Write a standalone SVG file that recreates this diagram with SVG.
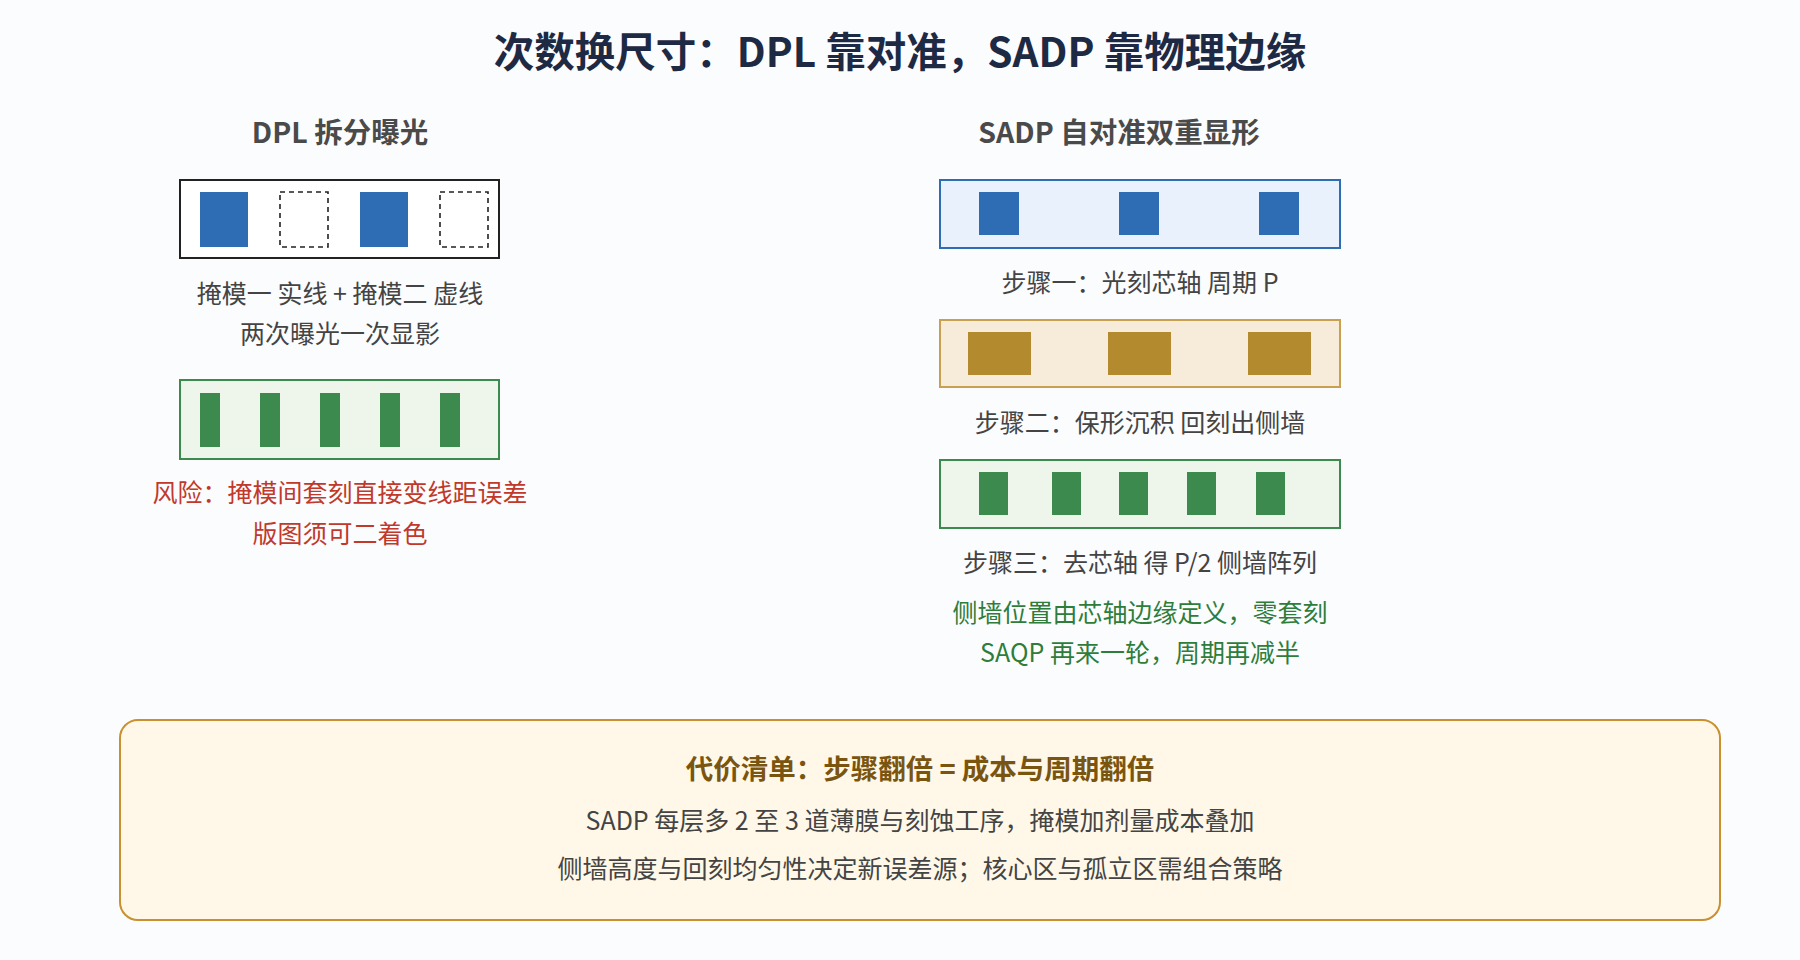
<svg xmlns="http://www.w3.org/2000/svg" width="1800" height="960" viewBox="0 0 1800 960">
<style>
text{font-family:"Noto Sans CJK SC","Noto Sans",sans-serif;text-anchor:middle;dominant-baseline:central}
.h{font-size:28.5px;font-weight:bold;fill:#4a4a4a}
.t{font-size:25px;fill:#444}
.r{font-size:25px;fill:#c0392b}
.g{font-size:25px;fill:#2e7d3a}
.blue{fill:#2e6db4}
.gold{fill:#b38b2e}
.grn{fill:#3d8a4f}
.dash{fill:none;stroke:#222;stroke-width:1.6;stroke-dasharray:5 4}
</style>
<rect width="1800" height="960" fill="#fbfcfe"/>
<text x="900" y="49" style="font-size:40.5px;font-weight:bold;fill:#1e2a44">次数换尺寸：DPL 靠对准，SADP 靠物理边缘</text>
<g id="dpl">
<text class="h" x="340" y="130">DPL 拆分曝光</text>
<rect x="180" y="180" width="319" height="78" fill="#fff" stroke="#222" stroke-width="2"/>
<rect class="blue" x="200" y="192" width="48" height="55"/>
<rect class="dash" x="280" y="192" width="48" height="55"/>
<rect class="blue" x="360" y="192" width="48" height="55"/>
<rect class="dash" x="440" y="192" width="48" height="55"/>
<text class="t" x="340" y="292">掩模一 实线 + 掩模二 虚线</text>
<text class="t" x="340" y="332">两次曝光一次显影</text>
<rect x="180" y="380" width="319" height="79" fill="#eef6ec" stroke="#3d8a4f" stroke-width="2"/>
<rect class="grn" x="200" y="393" width="20" height="54"/>
<rect class="grn" x="260" y="393" width="20" height="54"/>
<rect class="grn" x="320" y="393" width="20" height="54"/>
<rect class="grn" x="380" y="393" width="20" height="54"/>
<rect class="grn" x="440" y="393" width="20" height="54"/>
<text class="r" x="340" y="491">风险：掩模间套刻直接变线距误差</text>
<text class="r" x="340" y="532">版图须可二着色</text>
</g>
<g id="sadp">
<text class="h" x="1119" y="130">SADP 自对准双重显形</text>
<rect x="940" y="180" width="400" height="68" fill="#e8f1fc" stroke="#2e6db4" stroke-width="2"/>
<rect class="blue" x="979" y="192" width="40" height="43"/>
<rect class="blue" x="1119" y="192" width="40" height="43"/>
<rect class="blue" x="1259" y="192" width="40" height="43"/>
<text class="t" x="1140" y="281">步骤一：光刻芯轴 周期 P</text>
<rect x="940" y="320" width="400" height="67" fill="#f7ecd9" stroke="#c8a050" stroke-width="2"/>
<rect class="gold" x="968" y="332" width="63" height="43"/>
<rect class="gold" x="1108" y="332" width="63" height="43"/>
<rect class="gold" x="1248" y="332" width="63" height="43"/>
<text class="t" x="1140" y="421">步骤二：保形沉积 回刻出侧墙</text>
<rect x="940" y="460" width="400" height="68" fill="#eef6ec" stroke="#3d8a4f" stroke-width="2"/>
<rect class="grn" x="979" y="472" width="29" height="43"/>
<rect class="grn" x="1052" y="472" width="29" height="43"/>
<rect class="grn" x="1119" y="472" width="29" height="43"/>
<rect class="grn" x="1187" y="472" width="29" height="43"/>
<rect class="grn" x="1256" y="472" width="29" height="43"/>
<text class="t" x="1140" y="561">步骤三：去芯轴 得 P/2 侧墙阵列</text>
<text class="g" x="1140" y="611">侧墙位置由芯轴边缘定义，零套刻</text>
<text class="g" x="1140" y="651">SAQP 再来一轮，周期再减半</text>
</g>
<g id="cost">
<rect x="120" y="720" width="1600" height="200" rx="18" fill="#fff8e8" stroke="#c8902e" stroke-width="2"/>
<text x="920" y="767" style="font-size:27.5px;font-weight:bold;fill:#7a5510">代价清单：步骤翻倍 = 成本与周期翻倍</text>
<text class="t" x="920" y="819">SADP 每层多 2 至 3 道薄膜与刻蚀工序，掩模加剂量成本叠加</text>
<text class="t" x="920" y="867">侧墙高度与回刻均匀性决定新误差源；核心区与孤立区需组合策略</text>
</g>
<g id="connectors"/>
</svg>
